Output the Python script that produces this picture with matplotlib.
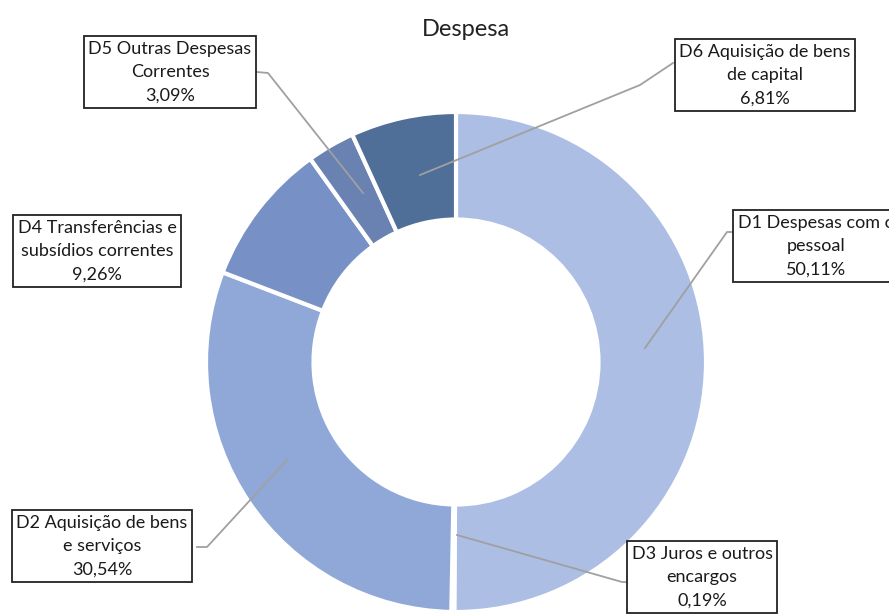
import matplotlib
matplotlib.use('Agg')
import matplotlib.pyplot as plt

plt.rcParams['font.family'] = ['Lato', 'DejaVu Sans']

W, H = 889, 616

# data (clockwise from top)
names = ['D1 Despesas com o\npessoal', 'D3 Juros e outros\nencargos',
         'D2 Aquisição de bens\ne serviços', 'D4 Transferências e\nsubsídios correntes',
         'D5 Outras Despesas\nCorrentes', 'D6 Aquisição de bens\nde capital']
values = [50.11, 0.19, 30.54, 9.26, 3.09, 6.81]
colors = ['#acbee4', '#8fa8d8', '#8fa8d8', '#7790c6', '#6982b2', '#4f6f99']

# label box centres and leader lines, in pixels
label_pos = [(816, 246), (702, 577), (102, 546), (97, 251), (170, 72), (765, 75)]
leaders = [
    [(645, 348), (727, 232), (734, 232)],
    [(457, 535), (622, 582), (628, 582)],
    [(197, 547), (207, 547), (287, 460)],
    None,
    [(257, 72), (268, 73), (363, 193)],
    [(420, 175), (640, 85), (673, 63)],
]


def fx(p):
    return p[0] / W, 1 - p[1] / H


fig = plt.figure(figsize=(W / 100, H / 100), dpi=100)
fig.patch.set_facecolor('white')

cx, cy, r = 456, 362, 250
ax = fig.add_axes([(cx - r) / W, 1 - (cy + r) / H, 2 * r / W, 2 * r / H])
ax.pie(values, colors=colors, startangle=90, counterclock=False, radius=1,
       wedgeprops=dict(width=0.43, edgecolor='white', linewidth=3))
ax.set_xlim(-1, 1)
ax.set_ylim(-1, 1)
ax.set_aspect('equal')
ax.axis('off')

fig.text(466 / W, 1 - 30 / H, 'Despesa', ha='center', va='center', fontsize=17, color='#222222')

for name, v, pos, ld in zip(names, values, label_pos, leaders):
    if ld is not None:
        xs = [fx(p)[0] for p in ld]
        ys = [fx(p)[1] for p in ld]
        fig.add_artist(plt.Line2D(xs, ys, transform=fig.transFigure, color='#a0a0a0', lw=1.3))
    txt = name + '\n' + f'{v:.2f}'.replace('.', ',') + '%'
    x, y = fx(pos)
    fig.text(x, y, txt, ha='center', va='center', fontsize=13, color='#1a1a1a',
             linespacing=1.55,
             bbox=dict(boxstyle='square,pad=0.25', fc='white', ec='#222222', lw=1.3))

fig.savefig('out.png', dpi=100)
